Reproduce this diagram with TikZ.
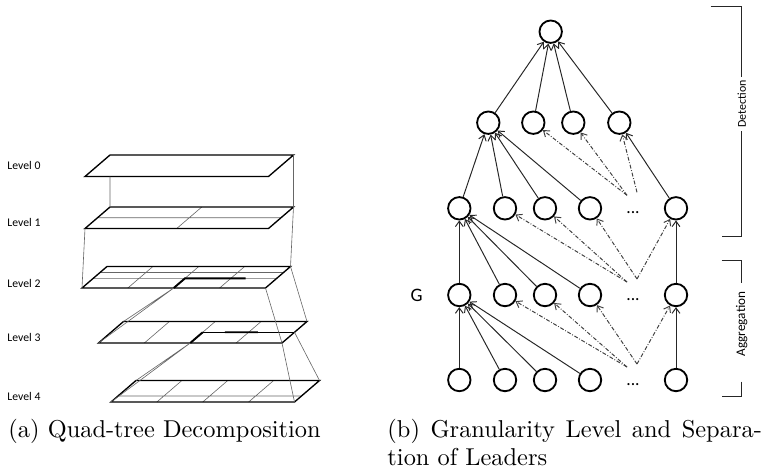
\documentclass[tikz,border=0pt]{standalone}
\usepackage{fontspec}
\newfontfamily\figfont{Carlito}
\usetikzlibrary{arrows.meta,calc,positioning}
\tikzset{
  nodo/.style={
    circle,
    draw,
    line width=.75pt,
    minimum size=9.2pt,
    inner sep=0pt
  },
  arrow/.style={
    -{Straight Barb[length=2.2pt,width=3.2pt]},
    line width=.4pt,
    black!85
  },
  arrowd/.style={
    arrow,
    black!75,
    dash pattern=on 1.6pt off .7pt on .35pt off .7pt
  },
  capa/.style 2 args={
    y={(25,-21.5)},
    x={(183.5,0)},
    shift={(#1*.41pt,-#2*.41pt)}
  },
  plano/.style={line width=.55pt},
  rejilla/.style={line width=.25pt,black!60},
  resalte/.style={line width=.8pt},
  proy/.style={line width=.25pt,black!60},
  nivel/.style={
    anchor=west,
    inner sep=0pt,
    font=\figfont\fontsize{4.8pt}{5pt}\selectfont
  },
  puntos/.style={
    anchor=base,
    inner sep=0pt,
    font=\figfont\fontsize{7.2pt}{8pt}\selectfont
  },
  llave/.style={line width=.4pt,black!85}
}

\begin{document}
\begin{tikzpicture}[x=.41pt,y=-.41pt]
\useasboundingbox (0,0) rectangle (772,472);

% (a) quad-tree
\node[nivel] (n0) at (7,165) {Level 0};
\node[nivel] (n1) at (7,222.7) {Level 1};
\node[nivel] (n2) at (7,283.3) {Level 2};
\node[nivel] (n3) at (7,337.3) {Level 3};
\node[nivel] (n4) at (7,396) {Level 4};

\begin{scope}[capa={85}{176.5}]
\draw[plano] (0,0) -- (1,0) -- (1,1) -- (0,1) -- cycle;
\coordinate (q0b) at (.136,0);
\coordinate (q0tr) at (1,1);
\end{scope}

\begin{scope}[capa={85}{228.5}]
\draw[rejilla] (.5,0) -- (.5,1) (0,.5) -- (1,.5);
\draw[plano] (0,0) -- (1,0) -- (1,1) -- (0,1) -- cycle;
\coordinate (q1bl) at (0,0);
\coordinate (q1tl) at (0,1);
\coordinate (q1tr) at (1,1);
\end{scope}

\begin{scope}[capa={82}{288}]
\draw[rejilla] (.25,0) -- (.25,1) (.5,0) -- (.5,1) (.75,0) -- (.75,1)
  (0,.45) -- (1,.45) (0,.72) -- (1,.72);
\draw[plano] (0,0) -- (1,0) -- (1,1) -- (0,1) -- cycle;
\draw[resalte] (.5,0) -- (.5,.45) -- (.83,.45);
\coordinate (q2bl) at (0,0);
\coordinate (q2h) at (.5,0);
\coordinate (q2br) at (1,0);
\coordinate (q2tr) at (1,1);
\end{scope}

\begin{scope}[capa={98.5}{343}]
\draw[rejilla] (.25,0) -- (.25,1) (.5,0) -- (.5,1) (.75,0) -- (.75,1);
\draw[plano] (0,0) -- (1,0) -- (1,1) -- (0,1) -- cycle;
\draw[plano] (.5,.5) -- (1,.5);
\draw[resalte] (.5,0) -- (.5,.5) (.62,.5) -- (.8,.5);
\coordinate (q3bl) at (0,0);
\coordinate (q3tl) at (0,1);
\coordinate (q3h) at (.5,0);
\coordinate (q3br) at (1,0);
\coordinate (q3tr) at (1,1);
\coordinate (q3e) at (1,.5);
\end{scope}

\begin{scope}[capa={111}{402}]
\draw[rejilla] (.25,0) -- (.25,1) (.5,0) -- (.5,1) (.75,0) -- (.75,1)
  (0,.28) -- (1,.28);
\draw[plano] (0,0) -- (1,0) -- (1,1) -- (0,1) -- cycle;
\coordinate (q4bl) at (0,0);
\coordinate (q4tl) at (0,1);
\coordinate (q4br) at (1,0);
\coordinate (q4tr) at (1,1);
\end{scope}

\draw[proy] (q0b) -- (q1tl) (q0tr) -- (q1tr);
\draw[proy] (q1bl) -- (q2bl) (q1tr) -- (q2tr);
\draw[proy] (q2h) -- (q3tl) (q2h) -- (q3bl) (q2tr) -- (q3tr) (q2br) -- (q3br);
\draw[proy] (q3h) -- (q4tl) (q3h) -- (q4bl) (q3e) -- (q4tr) (q3br) -- (q4br);

% (b) jerarquia de lideres
\node[nodo] (r) at (550.7,31.7) {};
\foreach \x [count=\i] in {488.3,533.3,573.3,619.3}
  \node[nodo] (a\i) at (\x,122.7) {};
\foreach \f/\y in {b/208.3,g/295,c/380}{
  \foreach \x [count=\i] in {459.3,505,545,590,676}
    \node[nodo] (\f\i) at (\x,\y) {};
  \node[puntos] (\f-d) at (633,\y+5.5) {...};
  \coordinate (\f-x) at (627,\y-13);
  \coordinate (\f-y) at (637,\y-16);
}
\node[left=9.9pt of g1,inner sep=0pt,font=\figfont\fontsize{7.8pt}{8pt}\selectfont] (glab) {G};

\foreach \i in {1,...,4} \draw[arrow] (a\i) -- (r);
\foreach \i in {1,...,4} \draw[arrow] (b\i) -- (a1);
\draw[arrow] (b5) -- (a4);
\draw[arrowd] (b-x) -- (a2);
\draw[arrowd] (b-x) -- (a3);
\draw[arrowd] (b-y) -- (a4);

\foreach \i in {1,...,4} \draw[arrow] (g\i) -- (b1);
\draw[arrow] (g5) -- (b5);
\draw[arrowd] (g-x) -- (b2);
\draw[arrowd] (g-x) -- (b3);
\draw[arrowd] (g-y) -- (b4);
\draw[arrowd] (g-y) -- (b5);

\foreach \i in {1,...,4} \draw[arrow] (c\i) -- (g1);
\draw[arrow] (c5) -- (g5);
\draw[arrowd] (c-x) -- (g2);
\draw[arrowd] (c-x) -- (g3);
\draw[arrowd] (c-y) -- (g4);
\draw[arrowd] (c-y) -- (g5);

% llaves
\node[rotate=90,inner xsep=1.2pt,inner ysep=0pt,font=\figfont\fontsize{4.9pt}{5pt}\selectfont] (det) at (741.7,104) {Detection};
\draw[llave] (710.7,6.7) -| (det.east);
\draw[llave] (det.west) |- (721.7,236.7);
\node[rotate=90,inner xsep=3.5pt,inner ysep=0pt,font=\figfont\fontsize{5.4pt}{6pt}\selectfont] (agg) at (741.7,324) {Aggregation};
\draw[llave] (721.7,260) -| (agg.east);
\draw[llave] (741.7,381.7) |- (721.7,396.7);

% captions
\node[anchor=base west,inner sep=0pt] (capa) at (8,437) {(a) Quad-tree Decomposition};
\node[anchor=base west,inner sep=0pt] (capb) at (387,437) {\makebox[153.5pt][s]{(b) Granularity Level and Separa-}};
\node[anchor=base west,inner sep=0pt] (capc) at (387,465.5) {tion of Leaders};
\end{tikzpicture}
\end{document}
